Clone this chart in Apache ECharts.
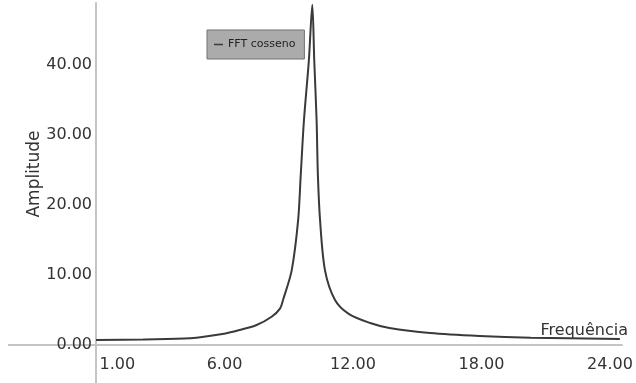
<!DOCTYPE html>
<html>
<head>
<meta charset="utf-8">
<script src="https://cdn.jsdelivr.net/npm/echarts@6/dist/echarts.min.js"></script>
<style>
  html, body { margin: 0; padding: 0; background: #fff; }
  #chart { width: 636px; height: 383px; }
</style>
</head>
<body>
<div id="chart"></div>
<script>
// frequência (x) e amplitude (y)
const freqs = [0, 2.2, 4.4, 5.9, 6.7, 7.5, 8.2, 8.59, 8.74, 9.14, 9.44, 9.56, 9.71, 9.94, 10.1,
  10.19, 10.3, 10.36, 10.46, 10.69, 11.16, 11.8, 12.8, 13.7, 15.6, 17.9, 20.3, 24.46];
const amps = [0.71, 0.8, 0.96, 1.57, 2.14, 2.86, 4.04, 5.2, 6.5, 10.7, 17.9, 24.3, 32.1, 40.7, 48.6,
  40.7, 32.1, 24.3, 17.9, 10.7, 6.43, 4.45, 3.14, 2.43, 1.71, 1.29, 1.04, 0.86];
const xTicks = [1, 6, 12, 18, 24];
const yTicks = [0, 10, 20, 30, 40];

const chart = echarts.init(document.getElementById("chart"));
const font = "DejaVu Sans";
const axisColor = "#c4c4c4";

const option = {
  animation: false,
  legend: {
    left: 207,
    top: 30,
    padding: [9, 9, 9, 7],
    backgroundColor: "#ababab",
    borderColor: "#707070",
    borderWidth: 1,
    icon: "rect",
    itemWidth: 9,
    itemHeight: 1.5,
    itemGap: 4,
    textStyle: { fontFamily: font, fontSize: 11, color: "#222" },
    data: ["FFT cosseno"],
  },
  grid: {
    left: 96,
    right: 14,
    top: 3,
    bottom: 38,
    outerBoundsMode: "none",
  },
  xAxis: {
    type: "value",
    min: 0,
    max: 24.56,
    name: "Frequência",
    nameLocation: "end",
    nameGap: 6,
    nameMoveOverlap: false,
    nameTextStyle: {
      fontFamily: font,
      fontSize: 16,
      color: "#333",
      align: "right",
      verticalAlign: "bottom",
      padding: [0, 0, 6, 0],
    },
    axisLine: { lineStyle: { color: axisColor, width: 2 } },
    // eixo vertical continua abaixo do eixo x
    axisTick: {
      show: true,
      customValues: [0],
      length: 40,
      lineStyle: { color: axisColor, width: 2 },
    },
    splitLine: { show: false },
    axisLabel: {
      customValues: xTicks,
      margin: 12,
      fontFamily: font,
      fontSize: 16,
      color: "#333",
      formatter: (v) => v.toFixed(2),
    },
  },
  yAxis: {
    type: "value",
    min: 0,
    max: 48.85,
    name: "Amplitude",
    nameLocation: "middle",
    nameGap: 53,
    nameMoveOverlap: false,
    nameTextStyle: {
      fontFamily: font,
      fontSize: 17,
      color: "#333",
    },
    axisLine: { lineStyle: { color: axisColor, width: 2 } },
    // eixo horizontal continua à esquerda do eixo y
    axisTick: {
      show: true,
      customValues: [0],
      length: 88,
      lineStyle: { color: axisColor, width: 2 },
    },
    splitLine: { show: false },
    axisLabel: {
      customValues: yTicks,
      margin: 4,
      fontFamily: font,
      fontSize: 16,
      color: "#333",
      formatter: (v) => v.toFixed(2),
    },
  },
  series: [
    {
      name: "FFT cosseno",
      type: "line",
      data: freqs.map((f, i) => [f, amps[i]]),
      smooth: 0.3,
      showSymbol: false,
      color: "#3a3a3a",
      lineStyle: { color: "#3a3a3a", width: 2 },
    },
  ],
};

chart.setOption(option);
</script>
</body>
</html>
